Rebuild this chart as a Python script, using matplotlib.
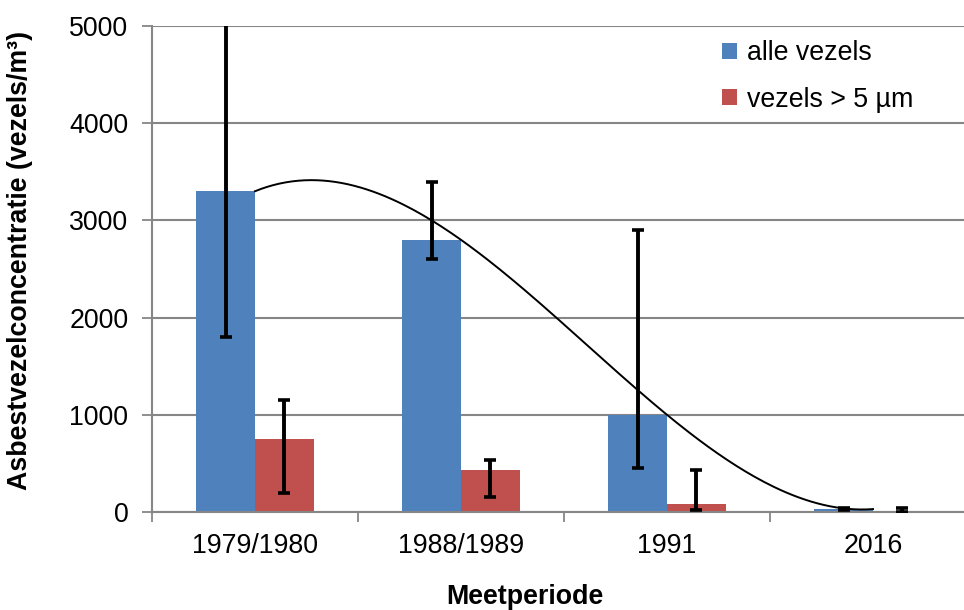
import numpy as np
import matplotlib
matplotlib.use("Agg")
import matplotlib.pyplot as plt

plt.rcParams['font.family'] = ['Liberation Sans', 'DejaVu Sans']

periods = ['1979/1980', '1988/1989', '1991', '2016']
alle = [3300, 2800, 1000, 30]
alle_low = [1800, 2600, 450, 20]
alle_high = [5300, 3400, 2900, 40]
groot = [750, 430, 80, 5]
groot_low = [200, 150, 20, 0]
groot_high = [1150, 540, 430, 40]

blue = '#4F81BD'
red = '#C0504D'
grid_c = '#868686'
fs = 19.3

fig = plt.figure(figsize=(9.64, 6.10), dpi=100)
ax = fig.add_axes([152 / 964, 98 / 610, 824 / 964, 486 / 610])

x = np.arange(len(periods))
w = 0.284

alle_err = [np.array(alle) - np.array(alle_low), np.array(alle_high) - np.array(alle)]
groot_err = [np.array(groot) - np.array(groot_low), np.array(groot_high) - np.array(groot)]

ax.bar(x - w / 2, alle, w, color=blue, label='alle vezels', zorder=2)
ax.bar(x + w / 2, groot, w, color=red, label='vezels > 5 µm', zorder=2)
ax.errorbar(x - w / 2, alle, yerr=alle_err, fmt='none', ecolor='black',
            elinewidth=2.8, capsize=4.4, capthick=2.6, zorder=3)
ax.errorbar(x + w / 2, groot, yerr=groot_err, fmt='none', ecolor='black',
            elinewidth=2.8, capsize=4.4, capthick=2.6, zorder=3)

# polynomial trendline (3rd order) through 'alle vezels'
coef = np.polyfit(x, alle, 3)
xs = np.linspace(x[0], x[-1], 200)
ax.plot(xs, np.polyval(coef, xs), color='black', lw=1.4, zorder=4)

ax.set_xlim(-0.5, 3.5)
ax.set_ylim(0, 5000)
ax.set_yticks(range(0, 5001, 1000))
ax.set_xticks(x)
ax.set_xticklabels(periods)
ax.set_xticks(np.arange(-0.5, 4, 1), minor=True)
ax.tick_params(axis='x', which='major', length=0, pad=15, labelsize=fs)
ax.tick_params(axis='x', which='minor', length=7, width=1.3, color=grid_c)
ax.tick_params(axis='y', length=7, width=1.3, color=grid_c, labelsize=fs, pad=10)

ax.grid(axis='y', color=grid_c, lw=1.5, zorder=0)
ax.set_axisbelow(True)
for s in ['top', 'right']:
    ax.spines[s].set_visible(False)
for s in ['left', 'bottom']:
    ax.spines[s].set_color(grid_c)
    ax.spines[s].set_linewidth(1.5)

ax.set_ylabel('Asbestvezelconcentratie (vezels/m³)', fontsize=fs, fontweight='bold')
ax.yaxis.set_label_coords(-0.1444, 0.5185)
fig.text(525 / 964, 13 / 610, 'Meetperiode', fontsize=fs, fontweight='bold', ha='center', va='center')

ax.legend(loc='upper left', bbox_to_anchor=(0.663, 1.020), frameon=False, fontsize=fs,
          handlelength=0.55, handleheight=0.55, handletextpad=0.35, labelspacing=0.75)

fig.savefig('out.png', dpi=100)
